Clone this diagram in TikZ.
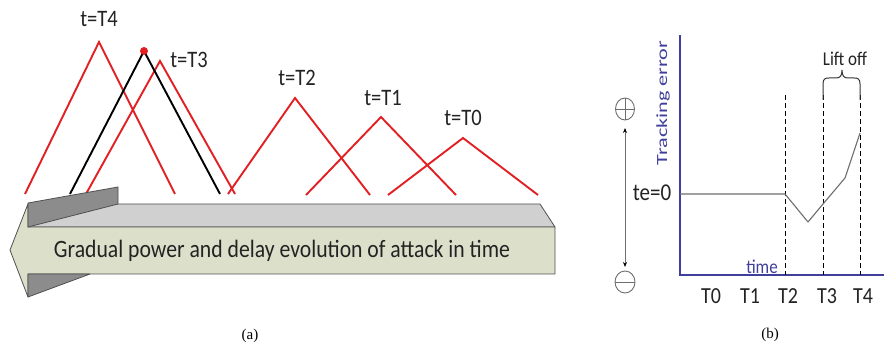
\documentclass[tikz,border=0pt]{standalone}
\usepackage{fontspec}
\setmainfont{Carlito}
\newfontfamily\capfont{Liberation Serif}
\usetikzlibrary{arrows.meta}
\definecolor{wavered}{RGB}{226,32,36}
\definecolor{facegreen}{RGB}{220,224,202}
\definecolor{topgray}{RGB}{208,208,208}
\definecolor{barbgray}{RGB}{140,140,140}
\definecolor{edgegray}{RGB}{80,80,80}
\definecolor{axisblue}{RGB}{64,64,156}
\definecolor{curvegray}{RGB}{110,110,110}
\definecolor{textdark}{RGB}{35,35,35}
\begin{document}
\begin{tikzpicture}[x=1pt,y=-1pt,
  wave/.style={draw=wavered, line width=1.9pt},
  peak/.style={draw=black, line width=1.9pt},
  lbl/.style={font=\fontsize{20.5}{24}\selectfont, text=textdark, yscale=1.15, inner sep=0pt},
  tick/.style={font=\fontsize{20}{24}\selectfont, text=textdark, yscale=1.15, inner sep=0pt},
  bluelbl/.style={font=\fontsize{17}{20}\selectfont, text=axisblue, yscale=1.15, inner sep=0pt},
  solid3d/.style={draw=edgegray, line width=0.8pt, line join=round},
  guide/.style={draw=black, line width=0.9pt, dash pattern=on 5pt off 3pt},
  sign/.style={draw=curvegray, line width=0.9pt},
  sub/.style={font=\capfont\fontsize{15}{17}\selectfont, inner sep=0pt}]
\useasboundingbox (0,0) rectangle (884,347);
\fill[white] (0,0) rectangle (884,347);

% ---------- (a) power/delay profiles ----------
\draw[wave] (25,194) -- (99,42) -- (175,194);
\draw[wave] (86,194) -- (160,61) -- (235,194);
\draw[peak] (70,194) -- (144,51) -- (220,194);
\fill[wavered] (144,51) circle (4);
\draw[wave] (228,194) -- (295,98) -- (370,195);
\draw[wave] (306,195) -- (381,117) -- (456,195);
\draw[wave] (388,195) -- (463,138) -- (538,195);

\node[lbl] (t4) at (99,19) {t=T4};
\node[lbl] (t3) at (189,60) {t=T3};
\node[lbl] (t2) at (297,78) {t=T2};
\node[lbl] (t1) at (383,98) {t=T1};
\node[lbl] (t0) at (463,118) {t=T0};

% ---------- block arrow pointing back in time ----------
\filldraw[solid3d, fill=topgray] (28,204) -- (540,204) -- (555,227) -- (28,227) -- cycle;
\filldraw[solid3d, fill=facegreen] (28,204) -- (10,250) -- (28,297) -- (28,274)
  -- (555,274) -- (555,227) -- (28,227) -- cycle;
\filldraw[solid3d, fill=barbgray] (28,203) -- (118,187) -- (118,204) -- (28,227) -- cycle;
\filldraw[solid3d, fill=barbgray] (28,274) -- (90,274) -- (28,297) -- cycle;
\node[font=\fontsize{21.7}{26}\selectfont, text=textdark, yscale=1.15, inner sep=0pt,
  anchor=base] (arrowtext) at (282,258) {Gradual power and delay evolution of attack in time};

\node[sub] (capa) at (250,336) {(a)};

% ---------- (b) tracking error ----------
\draw[axisblue, line width=1.3pt] (680,35) -- (680,275) -- (884,275);
\node[rotate=90, font=\fontsize{15.5}{18}\selectfont, text=axisblue, inner sep=0pt]
  (ylab) at (663,103) {\scalebox{1.43}[1]{Tracking error}};

\coordinate (g2) at (785,95);
\coordinate (g3) at (823,95);
\coordinate (g4) at (860,95);
\draw[guide] (g2) -- (785,275);
\draw[guide] (g3) -- (823,275);
\draw[guide] (g4) -- (860,275);

\draw[curvegray, line width=1.1pt, line join=round]
  (680,194) -- (785,194) -- (808,222) -- (823,204) -- (845,178) -- (860,133);

% brace over the lift-off interval
\draw[black!80, line width=1pt]
  (823,100) -- (823,84) .. controls (823,79) and (825,78) .. (829,78)
  -- (836,78) .. controls (840,78) and (842,76) .. (842,70)
  .. controls (842,76) and (844,78) .. (848,78)
  -- (854,78) .. controls (858,78) and (860,79) .. (860,84) -- (860,100);
\node[font=\fontsize{17}{20}\selectfont, text=textdark, yscale=1.15, inner sep=0pt]
  (lift) at (845,59) {Lift off};

\node[bluelbl] (timelbl) at (762,267) {time};

\node[tick] (T0) at (711,296) {T0};
\node[tick] (T1) at (750,296) {T1};
\node[tick] (T2) at (788,296) {T2};
\node[tick] (T3) at (827,296) {T3};
\node[tick] (T4) at (863,296) {T4};

\node[font=\fontsize{21}{24}\selectfont, text=textdark, yscale=1.15, inner sep=0pt]
  (te) at (652,193) {te=0};

% sign markers and two-way arrow
\draw[sign] (625,109) ellipse (9.5 and 11);
\draw[sign] (615.5,109) -- (634.5,109) (625,98) -- (625,120);
\draw[sign] (625,282) ellipse (10 and 11);
\draw[sign] (615,282) -- (635,282);
\coordinate (up) at (625,128);
\coordinate (down) at (625,267);
\draw[curvegray, line width=1pt, {Stealth[black,length=5pt,width=4pt]}-{Stealth[black,length=5pt,width=4pt]}] (up) -- (down);

\node[sub] (capb) at (770,335) {(b)};
\end{tikzpicture}
\end{document}
